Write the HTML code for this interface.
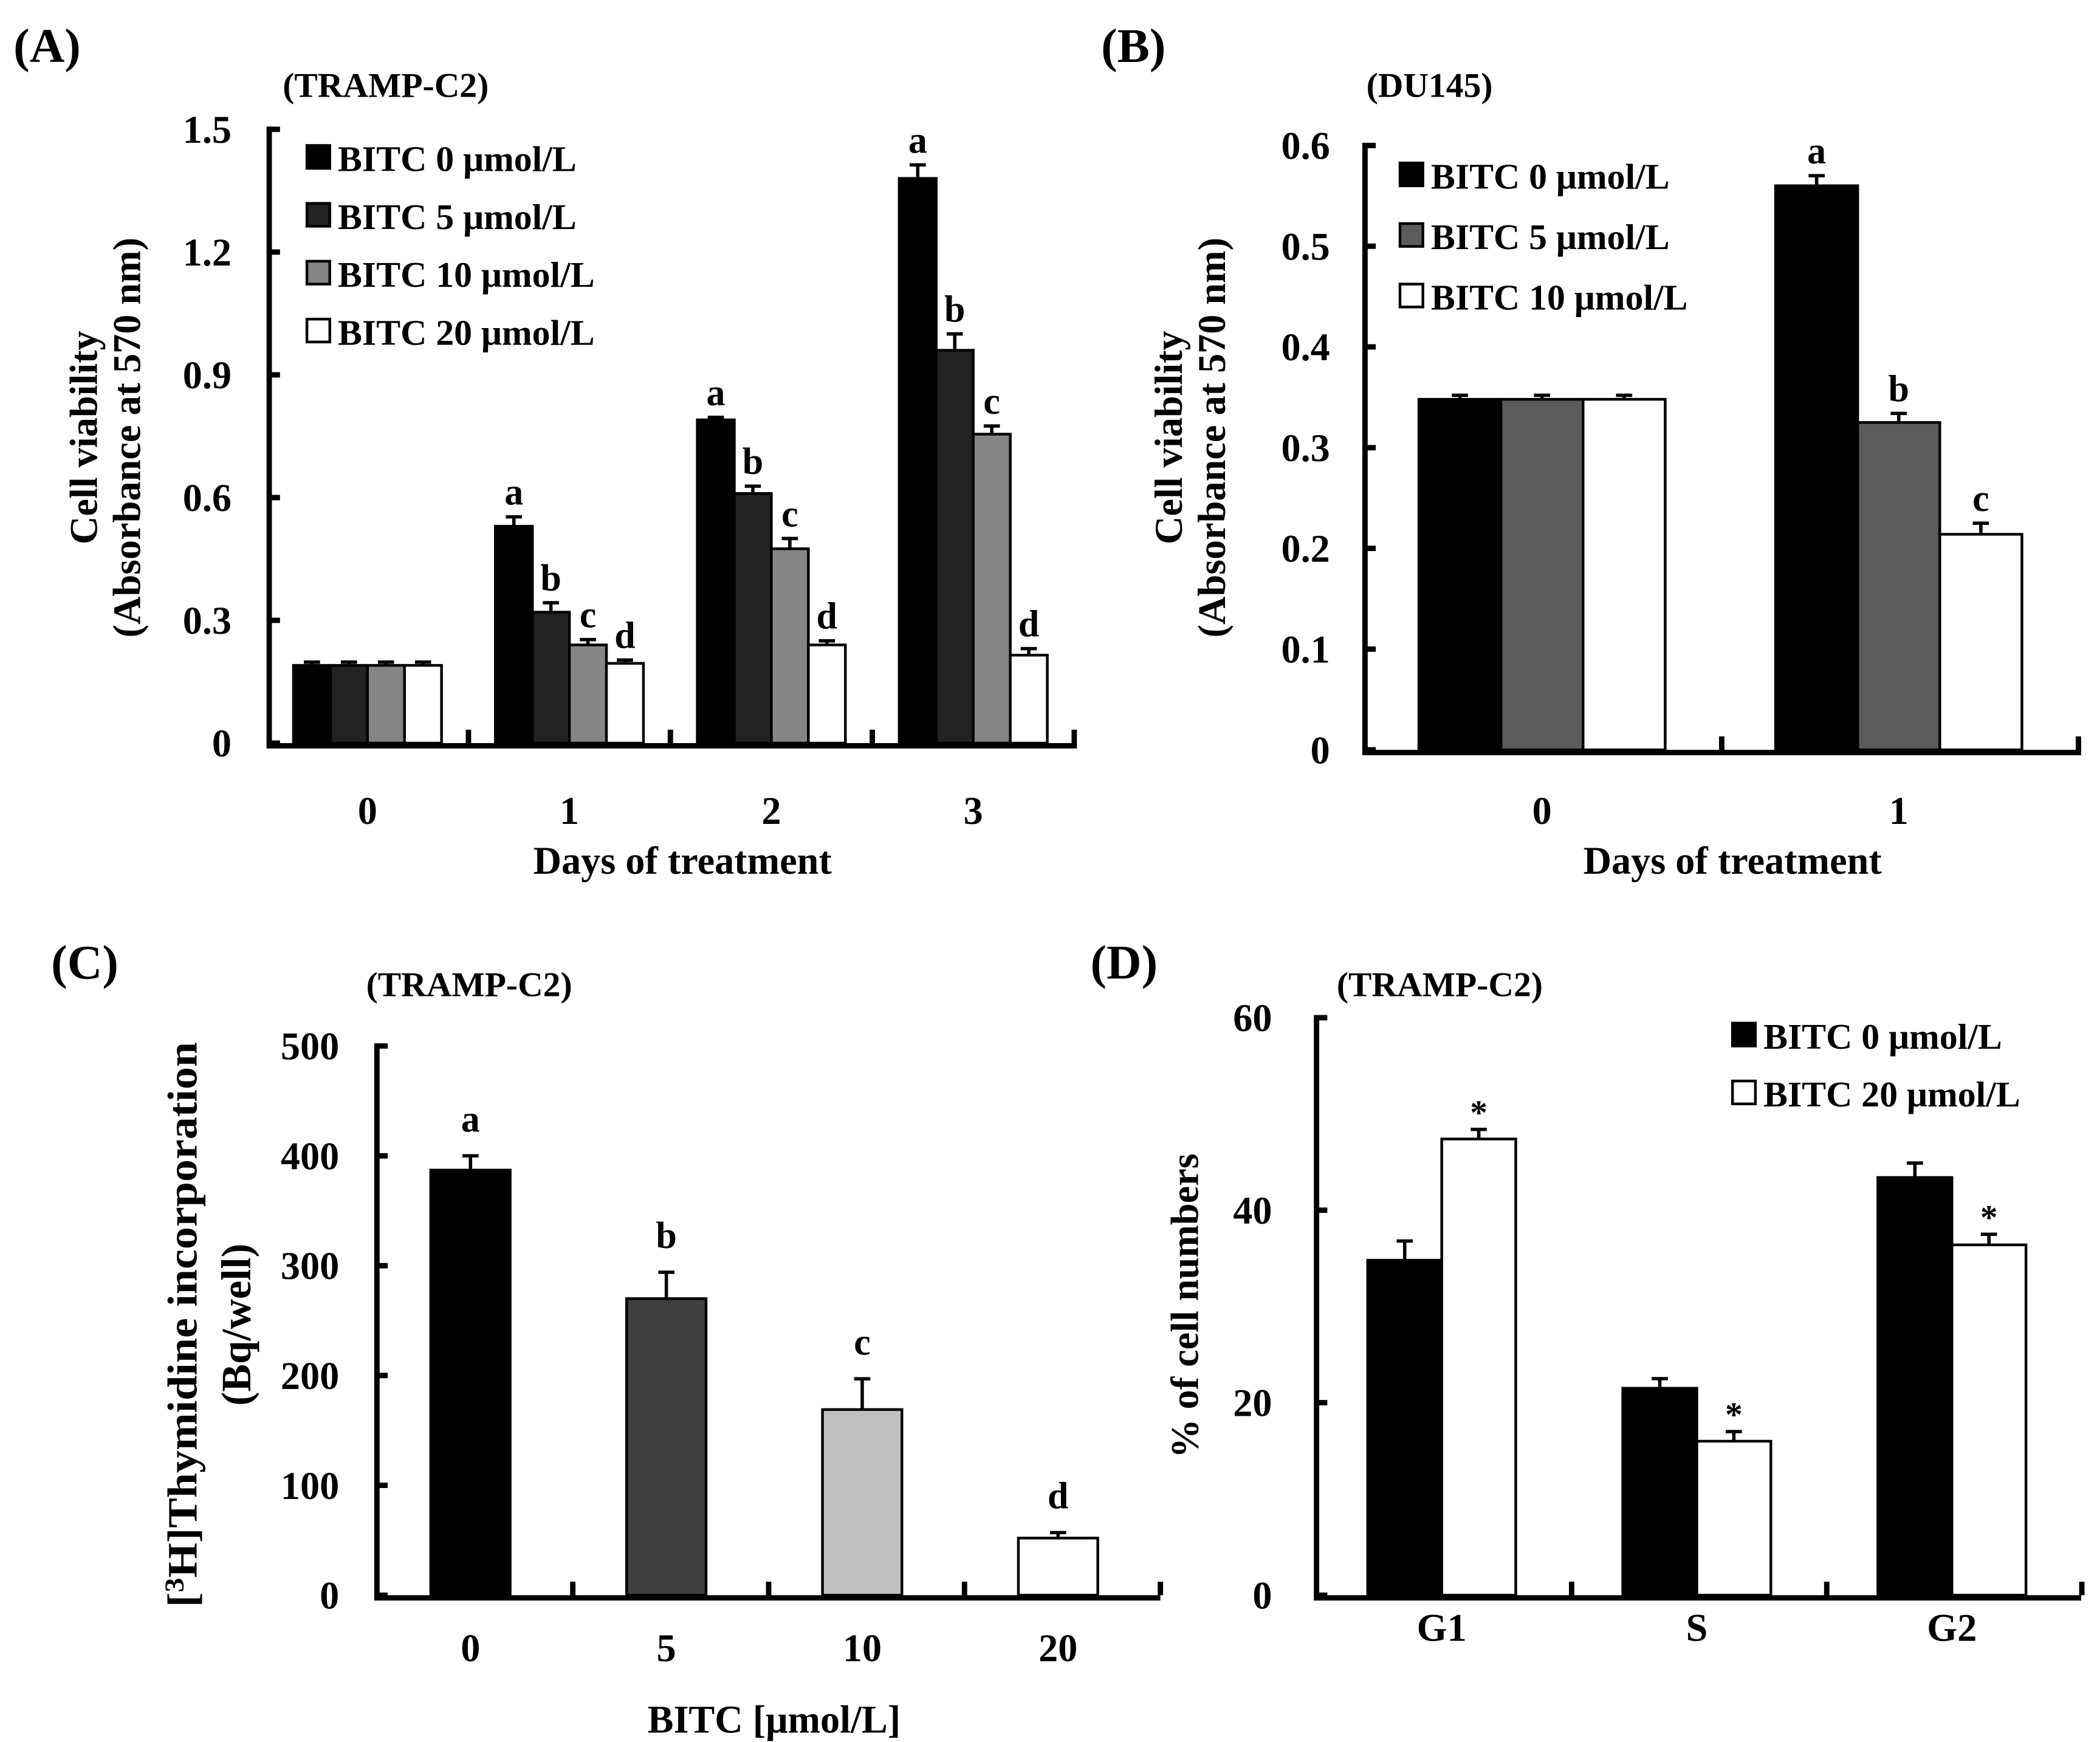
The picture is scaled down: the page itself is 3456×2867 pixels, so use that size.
<!DOCTYPE html>
<html><head><meta charset="utf-8"><style>
html,body{margin:0;padding:0;background:#fff}
svg{display:block}
text{font-family:"Liberation Serif",serif;font-weight:bold;fill:#000}
</style></head><body>
<svg id="fig" width="3456" height="2867" viewBox="0 0 1560 1294" xmlns="http://www.w3.org/2000/svg">
<text x="10" y="46" font-size="36">(A)</text>
<text x="210" y="72" font-size="26">(TRAMP-C2)</text>
<text x="818" y="46" font-size="36">(B)</text>
<text x="1015" y="72" font-size="26">(DU145)</text>
<text x="38" y="727" font-size="36">(C)</text>
<text x="272" y="740" font-size="26">(TRAMP-C2)</text>
<text x="810" y="727" font-size="36">(D)</text>
<text x="993" y="740" font-size="26">(TRAMP-C2)</text>

<text transform="translate(72,325) rotate(-90)" text-anchor="middle" font-size="29">Cell viability</text>
<text transform="translate(104,325) rotate(-90)" text-anchor="middle" font-size="29">(Absorbance at 570 nm)</text>
<text x="507" y="649" text-anchor="middle" font-size="29">Days of treatment</text>
<text transform="translate(878,325) rotate(-90)" text-anchor="middle" font-size="29">Cell viability</text>
<text transform="translate(910,325) rotate(-90)" text-anchor="middle" font-size="29">(Absorbance at 570 nm)</text>
<text x="1287" y="649" text-anchor="middle" font-size="29">Days of treatment</text>
<text transform="translate(146,984) rotate(-90)" text-anchor="middle" font-size="31" textLength="420" lengthAdjust="spacingAndGlyphs">[<tspan font-size="20" dy="-10">3</tspan><tspan dy="10">H]Thymidine incorporation</tspan></text>
<text transform="translate(186,984) rotate(-90)" text-anchor="middle" font-size="31">(Bq/well)</text>
<text x="575" y="1287" text-anchor="middle" font-size="29">BITC [μmol/L]</text>
<text transform="translate(890,970) rotate(-90)" text-anchor="middle" font-size="29">% of cell numbers</text>
</svg>
<script>
// Panel A data
const aCats = ['0','1','2','3'];
const aSeriesNames = ['BITC 0  μmol/L','BITC 5 μmol/L','BITC 10 μmol/L','BITC 20 μmol/L'];
const aV0 = [0.19, 0.53, 0.79, 1.38];
const aV5 = [0.19, 0.32, 0.61, 0.96];
const aV10 = [0.19, 0.24, 0.475, 0.755];
const aV20 = [0.19, 0.195, 0.24, 0.215];
const aE0 = [0.008, 0.023, 0.006, 0.033];
const aE5 = [0.008, 0.023, 0.018, 0.04];
const aE10 = [0.008, 0.013, 0.025, 0.02];
const aE20 = [0.008, 0.008, 0.01, 0.016];
const aLetters0 = ['', 'a', 'a', 'a'];
const aLetters5 = ['', 'b', 'b', 'b'];
const aLetters10 = ['', 'c', 'c', 'c'];
const aLetters20 = ['', 'd', 'd', 'd'];
const aTicks = [0, 0.3, 0.6, 0.9, 1.2, 1.5];
const aTickLabels = ['0','0.3','0.6','0.9','1.2','1.5'];
// Panel B data
const bCats = ['0','1'];
const bSeriesNames = ['BITC 0 μmol/L','BITC 5 μmol/L','BITC 10 μmol/L'];
const bV0 = [0.348, 0.56];
const bV5 = [0.348, 0.325];
const bV10 = [0.348, 0.214];
const bE0 = [0.004, 0.01];
const bE5 = [0.004, 0.009];
const bE10 = [0.004, 0.011];
const bLetters0 = ['', 'a'];
const bLetters5 = ['', 'b'];
const bLetters10 = ['', 'c'];
const bTicks = [0, 0.1, 0.2, 0.3, 0.4, 0.5, 0.6];
const bTickLabels = ['0','0.1','0.2','0.3','0.4','0.5','0.6'];
// Panel C data
const cCats = ['0','5','10','20'];
const cValues = [387, 270, 169, 52];
const cErrors = [13, 24, 28, 5];
const cLetters = ['a','b','c','d'];
const cTicks = [0, 100, 200, 300, 400, 500];
const cTickLabels = ['0','100','200','300','400','500'];
// Panel D data
const dCats = ['G1','S','G2'];
const dSeriesNames = ['BITC 0  μmol/L','BITC 20 μmol/L'];
const dV0 = [34.8, 21.5, 43.4];
const dV20 = [47.4, 16.0, 36.4];
const dE0 = [2.0, 1.0, 1.5];
const dE20 = [1.0, 1.0, 1.1];
const dMarks20 = ['*','*','*'];
const dTicks = [0, 20, 40, 60];
const dTickLabels = ['0','20','40','60'];

const NS = 'http://www.w3.org/2000/svg';
const svg = document.getElementById('fig');
function mk(tag, attrs, parent) {
  const e = document.createElementNS(NS, tag);
  for (const k in attrs) e.setAttribute(k, attrs[k]);
  (parent || svg).appendChild(e);
  return e;
}

function drawPanel(p) {
  const g = mk('g', {});
  
  
  const y = v => p.y0 - (v - p.vmin) / (p.vmax - p.vmin) * (p.y0 - p.y1);
  p.series.forEach((s, si) => {
    s.values.forEach((v, ci) => {
      const gs = p.groupStart(ci);
      const x = gs + p.barOff + si * p.barW;
      const top = y(v);
      const r = mk('rect', {x: x, y: top, width: p.barW, height: p.y0 - top, fill: s.color, stroke: '#000', 'stroke-width': 2}, g);
      
      
      const cx = x + p.barW / 2;
      const et = y(v + s.errors[ci]);
      const eb = mk('path', {d: 'M' + cx + ' ' + top + 'V' + et + 'M' + (cx - 6) + ' ' + et + 'H' + (cx + 6), stroke: '#000', 'stroke-width': 2.5, fill: 'none'}, g);
      
      
      const lab = s.letters ? s.letters[ci] : '';
      if (lab) {
        const t = mk('text', {x: cx, y: et - (lab === '*' ? 4 : 9), 'text-anchor': 'middle', 'font-size': lab === '*' ? 26 : 28, 'font-weight': lab === '*' ? 'normal' : 'bold'}, g);
        t.textContent = lab;
        
        
      }
    });
  });
  const ax = mk('path', {d: 'M' + p.axX + ' ' + (p.y1 - 2) + 'V' + (p.y0 + 2) + 'H' + p.xEnd, stroke: '#000', 'stroke-width': 4, fill: 'none'}, g);
  
  
  p.ticks.forEach((tv, i) => {
    const ty = y(tv);
    const tk = mk('line', {x1: p.axX, x2: p.axX + 8, y1: ty, y2: ty, stroke: '#000', 'stroke-width': 4}, g);
    
    
    const tl = mk('text', {x: p.tickLabelX, y: ty + 10, 'text-anchor': 'end', 'font-size': 29}, g);
    tl.textContent = p.tickLabels[i];
    
    
  });
  p.cats.forEach((c, ci) => {
    const gs = p.groupStart(ci);
    const ge = p.groupStart(ci + 1);
    const xt = mk('line', {x1: ge, x2: ge, y1: p.y0, y2: p.y0 - 10, stroke: '#000', 'stroke-width': 4}, g);
    
    
    const cx = gs + p.barOff + p.series.length * p.barW / 2;
    const cl = mk('text', {x: cx, y: p.catY, 'text-anchor': 'middle', 'font-size': 29}, g);
    cl.textContent = c;
    
    
  });
  if (p.legend) {
    p.series.forEach((s, si) => {
      const ly = p.legend.y + si * p.legend.dy;
      const sw = mk('rect', {x: p.legend.x, y: ly - 9, width: 17, height: 17, fill: s.color, stroke: '#000', 'stroke-width': 2}, g);
      
      
      const lt = mk('text', {x: p.legend.x + 23, y: ly + 10, 'font-size': 27}, g);
      lt.textContent = s.name;
      
      
    });
  }
}

drawPanel({
  key: 'panel-a', cats: aCats, vmin: 0, vmax: 1.5, y0: 552, y1: 96,
  axX: 200, xEnd: 800, groupStart: i => 198 + 150 * i, barOff: 20, barW: 27.5,
  ticks: aTicks, tickLabels: aTickLabels, tickLabelX: 172, catY: 612,
  legend: {x: 228, y: 117, dy: 43},
  series: [
    {id: 'bitc0', name: aSeriesNames[0], color: '#000000', values: aV0, errors: aE0, letters: aLetters0},
    {id: 'bitc5', name: aSeriesNames[1], color: '#222222', values: aV5, errors: aE5, letters: aLetters5},
    {id: 'bitc10', name: aSeriesNames[2], color: '#858585', values: aV10, errors: aE10, letters: aLetters10},
    {id: 'bitc20', name: aSeriesNames[3], color: '#ffffff', values: aV20, errors: aE20, letters: aLetters20}
  ]
});
drawPanel({
  key: 'panel-b', cats: bCats, vmin: 0, vmax: 0.6, y0: 557, y1: 108,
  axX: 1014, xEnd: 1546, groupStart: i => 1014 + 265 * i, barOff: 40, barW: 61,
  ticks: bTicks, tickLabels: bTickLabels, tickLabelX: 988, catY: 612,
  legend: {x: 1040, y: 130, dy: 45},
  series: [
    {id: 'bitc0', name: bSeriesNames[0], color: '#000000', values: bV0, errors: bE0, letters: bLetters0},
    {id: 'bitc5', name: bSeriesNames[1], color: '#5b5b5b', values: bV5, errors: bE5, letters: bLetters5},
    {id: 'bitc10', name: bSeriesNames[2], color: '#ffffff', values: bV10, errors: bE10, letters: bLetters10}
  ]
});
(function(){
  const colors = ['#000000', '#3f3f3f', '#c0c0c0', '#ffffff'];
  const g = mk('g', {});
  
  
  const y0 = 1185, y1 = 777, vmax = 500;
  const y = v => y0 - v / vmax * (y0 - y1);
  const gsx = i => 280 + 145.5 * i;
  const barOff = 40, barW = 59;
  cValues.forEach((v, i) => {
    const x = gsx(i) + barOff;
    const top = y(v);
    const r = mk('rect', {x: x, y: top, width: barW, height: y0 - top, fill: colors[i], stroke: '#000', 'stroke-width': 2}, g);
    
    
    const cx = x + barW / 2, et = y(v + cErrors[i]);
    const eb = mk('path', {d: 'M' + cx + ' ' + top + 'V' + et + 'M' + (cx - 6) + ' ' + et + 'H' + (cx + 6), stroke: '#000', 'stroke-width': 2.5, fill: 'none'}, g);
    
    
    const t = mk('text', {x: cx, y: et - 18, 'text-anchor': 'middle', 'font-size': 28}, g);
    t.textContent = cLetters[i];
    
    
    const xt = mk('line', {x1: gsx(i + 1), x2: gsx(i + 1), y1: y0, y2: y0 - 10, stroke: '#000', 'stroke-width': 4}, g);
    
    
    const cl = mk('text', {x: cx, y: 1234, 'text-anchor': 'middle', 'font-size': 29}, g);
    cl.textContent = cCats[i];
    
    
  });
  const ax = mk('path', {d: 'M280 775V1187H862', stroke: '#000', 'stroke-width': 4, fill: 'none'}, g);
  
  
  cTicks.forEach((tv, i) => {
    const ty = y(tv);
    const tk = mk('line', {x1: 280, x2: 288, y1: ty, y2: ty, stroke: '#000', 'stroke-width': 4}, g);
    
    
    const tl = mk('text', {x: 252, y: ty + 10, 'text-anchor': 'end', 'font-size': 29}, g);
    tl.textContent = cTickLabels[i];
    
    
  });
})();
drawPanel({
  key: 'panel-d', cats: dCats, vmin: 0, vmax: 60, y0: 1185, y1: 756,
  axX: 978, xEnd: 1546, groupStart: i => 978 + 189.5 * i, barOff: 38, barW: 55,
  ticks: dTicks, tickLabels: dTickLabels, tickLabelX: 945, catY: 1219,
  legend: {x: 1287, y: 769, dy: 43},
  series: [
    {id: 'bitc0', name: dSeriesNames[0], color: '#000000', values: dV0, errors: dE0, letters: null},
    {id: 'bitc20', name: dSeriesNames[1], color: '#ffffff', values: dV20, errors: dE20, letters: dMarks20}
  ]
});
</script>
</body></html>
